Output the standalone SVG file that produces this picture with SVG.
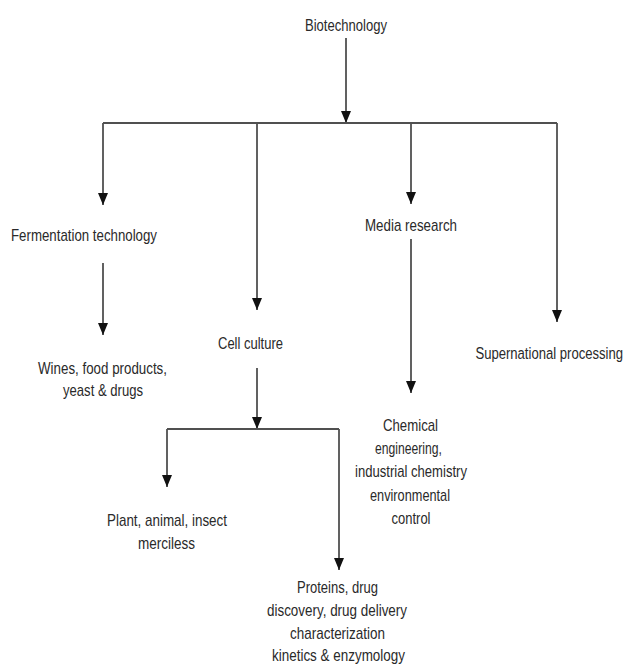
<svg xmlns="http://www.w3.org/2000/svg" width="629" height="666" viewBox="0 0 629 666">
<style>
text{font-family:"Liberation Sans",Arial,sans-serif;font-size:17px;fill:#2a2a2a;text-anchor:middle}
.ln{stroke:#505050;stroke-width:1.8;fill:none}
</style>
<defs>
<marker id="ah" markerUnits="userSpaceOnUse" markerWidth="12" markerHeight="10" viewBox="0 0 12 10" refX="12" refY="5" orient="auto">
<path d="M0,0 L12,5 L0,10 z" fill="#111"/>
</marker>
</defs>
<rect width="629" height="666" fill="#fff"/>
<g id="connectors">
<line class="ln" x1="346" y1="38" x2="346" y2="123" marker-end="url(#ah)"/>
<line class="ln" x1="103" y1="123" x2="557" y2="123"/>
<polyline class="ln" points="103,123 103,205" marker-end="url(#ah)"/>
<polyline class="ln" points="257,123 257,310" marker-end="url(#ah)"/>
<polyline class="ln" points="411,123 411,204" marker-end="url(#ah)"/>
<polyline class="ln" points="557,123 557,322" marker-end="url(#ah)"/>
<line class="ln" x1="103" y1="263" x2="103" y2="335" marker-end="url(#ah)"/>
<line class="ln" x1="257" y1="368" x2="257" y2="429" marker-end="url(#ah)"/>
<line class="ln" x1="167" y1="429" x2="339" y2="429"/>
<polyline class="ln" points="167,429 167,487" marker-end="url(#ah)"/>
<polyline class="ln" points="339,429 339,570" marker-end="url(#ah)"/>
<line class="ln" x1="411" y1="239" x2="411" y2="393" marker-end="url(#ah)"/>
</g>
<g id="biotechnology"><text x="346" y="31" textLength="82" lengthAdjust="spacingAndGlyphs">Biotechnology</text></g>
<g id="fermentation"><text x="84" y="241" textLength="146" lengthAdjust="spacingAndGlyphs">Fermentation technology</text></g>
<g id="wines">
<text x="102.5" y="374" textLength="129" lengthAdjust="spacingAndGlyphs">Wines, food products,</text>
<text x="103" y="396" textLength="80" lengthAdjust="spacingAndGlyphs">yeast &amp; drugs</text>
</g>
<g id="cell-culture"><text x="250.5" y="349" textLength="65" lengthAdjust="spacingAndGlyphs">Cell culture</text></g>
<g id="media-research"><text x="411" y="231" textLength="92" lengthAdjust="spacingAndGlyphs">Media research</text></g>
<g id="supernational"><text transform="translate(623,359) scale(0.77,1)" x="0" y="0" style="text-anchor:end">Supernational processing</text></g>
<g id="chemical">
<text x="410.5" y="431" textLength="55" lengthAdjust="spacingAndGlyphs">Chemical</text>
<text x="408.5" y="454" textLength="67" lengthAdjust="spacingAndGlyphs">engineering,</text>
<text x="411" y="477" textLength="112" lengthAdjust="spacingAndGlyphs">industrial chemistry</text>
<text x="410" y="501" textLength="80" lengthAdjust="spacingAndGlyphs">environmental</text>
<text x="411" y="524" textLength="39" lengthAdjust="spacingAndGlyphs">control</text>
</g>
<g id="plant">
<text x="167" y="526" textLength="120" lengthAdjust="spacingAndGlyphs">Plant, animal, insect</text>
<text x="166.5" y="549" textLength="57" lengthAdjust="spacingAndGlyphs">merciless</text>
</g>
<g id="proteins">
<text x="337.5" y="593" textLength="81" lengthAdjust="spacingAndGlyphs">Proteins, drug</text>
<text x="337" y="616" textLength="140" lengthAdjust="spacingAndGlyphs">discovery, drug delivery</text>
<text x="337.5" y="639" textLength="95" lengthAdjust="spacingAndGlyphs">characterization</text>
<text x="338.5" y="661" textLength="133" lengthAdjust="spacingAndGlyphs">kinetics &amp; enzymology</text>
</g>
</svg>
